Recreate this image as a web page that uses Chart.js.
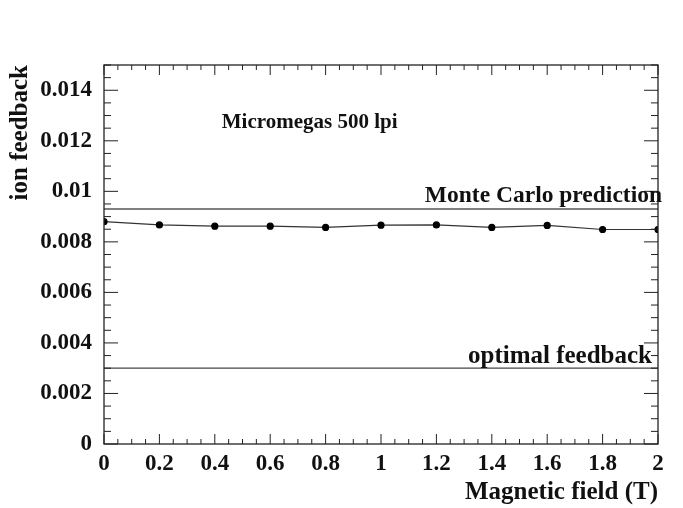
<!DOCTYPE html>
<html>
<head>
<meta charset="utf-8">
<script src="https://cdn.jsdelivr.net/npm/chart.js@4.4.1/dist/chart.umd.min.js"></script>
<style>
  html, body { margin: 0; padding: 0; background: #fff; }
  #wrap { width: 683px; height: 508px; }
</style>
</head>
<body>
<div id="wrap"><canvas id="ionChart" width="683" height="508"></canvas></div>
<script>
// ===== DATA =====
const magneticField = [0, 0.2, 0.4, 0.6, 0.8, 1.0, 1.2, 1.4, 1.6, 1.8, 2.0];
const ionFeedback = [0.0088, 0.00867, 0.00862, 0.00862, 0.00857, 0.00866, 0.00867, 0.00857, 0.00865, 0.00849, 0.00849];
const monteCarloLevel = 0.0093;
const optimalLevel = 0.003;
const xTicks = [0, 0.2, 0.4, 0.6, 0.8, 1, 1.2, 1.4, 1.6, 1.8, 2];
const xTickLabels = ["0", "0.2", "0.4", "0.6", "0.8", "1", "1.2", "1.4", "1.6", "1.8", "2"];
const yTicks = [0, 0.002, 0.004, 0.006, 0.008, 0.01, 0.012, 0.014];
const yTickLabels = ["0", "0.002", "0.004", "0.006", "0.008", "0.01", "0.012", "0.014"];

const serif = "'Liberation Serif', 'DejaVu Serif', serif";
const tickFont = { family: serif, weight: "bold", size: 23 };
const titleFont = { family: serif, weight: "bold", size: 25 };

// ROOT-like frame with inward ticks + labels
const framePlugin = {
  id: "frame",
  afterDatasetsDraw(chart) {
    const ctx = chart.ctx;
    const a = chart.chartArea;
    const xs = chart.scales.x;
    const ys = chart.scales.y;

    ctx.save();
    ctx.strokeStyle = "#222";
    ctx.lineWidth = 1.3;
    ctx.strokeRect(a.left, a.top, a.right - a.left, a.bottom - a.top);

    ctx.lineWidth = 1;
    ctx.beginPath();
    for (let i = 0; i <= 40; i++) {
      const px = xs.getPixelForValue(i * 0.05);
      const major = i % 4 === 0;
      ctx.moveTo(px, a.bottom); ctx.lineTo(px, a.bottom - (major ? 10 : 5));
      ctx.moveTo(px, a.top); ctx.lineTo(px, a.top + (major ? 10 : 5));
    }
    for (let i = 0; i <= 30; i++) {
      const py = ys.getPixelForValue(i * 0.0005);
      const len = i % 4 === 0 ? 14 : 7;
      ctx.moveTo(a.left, py); ctx.lineTo(a.left + len, py);
      ctx.moveTo(a.right, py); ctx.lineTo(a.right - len, py);
    }
    ctx.stroke();

    // annotations
    ctx.fillStyle = "#111";
    ctx.textBaseline = "alphabetic";
    ctx.textAlign = "left";
    ctx.font = "bold 21px " + serif;
    ctx.fillText("Micromegas 500 lpi", xs.getPixelForValue(0.425), ys.getPixelForValue(0.0128) + 7);

    ctx.textAlign = "right";
    ctx.font = "bold 23.5px " + serif;
    ctx.fillText("Monte Carlo prediction", a.right + 4, ys.getPixelForValue(monteCarloLevel) - 7);
    ctx.font = "bold 25px " + serif;
    ctx.fillText("optimal feedback", a.right - 6, ys.getPixelForValue(optimalLevel) - 5);
    ctx.restore();
  }
};

const ctx = document.getElementById("ionChart").getContext("2d");

window.chart = new Chart(ctx, {
  type: "line",
  data: {
    datasets: [
      {
        label: "ion feedback",
        data: magneticField.map((b, i) => ({ x: b, y: ionFeedback[i] })),
        borderColor: "#333",
        borderWidth: 1.2,
        pointRadius: 3,
        pointBackgroundColor: "#000",
        pointBorderColor: "#000",
        tension: 0
      },
      {
        label: "Monte Carlo prediction",
        data: [{ x: 0, y: monteCarloLevel }, { x: 2, y: monteCarloLevel }],
        borderColor: "#555",
        borderWidth: 1.4,
        pointRadius: 0
      },
      {
        label: "optimal feedback",
        data: [{ x: 0, y: optimalLevel }, { x: 2, y: optimalLevel }],
        borderColor: "#444",
        borderWidth: 1.2,
        pointRadius: 0
      }
    ]
  },
  options: {
    responsive: false,
    animation: false,
    layout: { padding: { top: 65, right: 25, left: 0, bottom: 0 } },
    plugins: {
      legend: { display: false },
      tooltip: { enabled: false }
    },
    scales: {
      x: {
        type: "linear",
        min: 0,
        max: 2,
        afterBuildTicks: (s) => { s.ticks = xTicks.map(v => ({ value: v })); },
        afterFit: (s) => { s.height = 64; },
        grid: { display: false, drawTicks: false },
        border: { display: false },
        ticks: {
          padding: 6,
          color: "#111",
          font: tickFont,
          maxRotation: 0,
          autoSkip: false,
          callback: (v) => xTickLabels[xTicks.findIndex(t => Math.abs(t - v) < 1e-9)]
        },
        title: {
          display: true,
          text: "Magnetic field (T)",
          align: "end",
          color: "#111",
          font: titleFont,
          padding: { top: 0, bottom: 0 }
        }
      },
      y: {
        min: 0,
        max: 0.015,
        afterBuildTicks: (s) => { s.ticks = yTicks.map(v => ({ value: v })); },
        afterFit: (s) => { s.width = 104; },
        grid: { display: false, drawTicks: false },
        border: { display: false },
        ticks: {
          padding: 12,
          color: "#111",
          font: tickFont,
          autoSkip: false,
          callback: (v) => yTickLabels[yTicks.findIndex(t => Math.abs(t - v) < 1e-9)]
        },
        title: {
          display: true,
          text: "ion feedback",
          align: "end",
          color: "#111",
          font: titleFont,
          padding: { top: 6, bottom: 0 }
        }
      }
    }
  },
  plugins: [framePlugin]
});
</script>
</body>
</html>
